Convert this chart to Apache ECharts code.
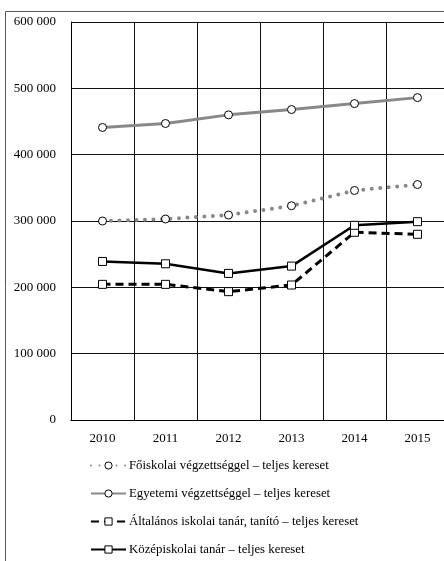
<!DOCTYPE html>
<html>
<head>
<meta charset="utf-8">
<script src="https://cdn.jsdelivr.net/npm/echarts@6/dist/echarts.min.js"></script>
<style>
  html, body { margin: 0; padding: 0; background: #fff; }
  #chart { width: 444px; height: 561px; }
</style>
</head>
<body>
<div id="chart"></div>
<script>
  // évek
  var years = ['2010', '2011', '2012', '2013', '2014', '2015'];

  // sorozatok (Ft)
  var foiskolai   = [300000, 303000, 309000, 323000, 346000, 355000];
  var egyetemi    = [441000, 447000, 460000, 468000, 477000, 486000];
  var altalanos   = [204500, 204500, 193500, 203500, 283000, 280000];
  var kozepiskola = [239000, 235500, 221000, 232000, 293500, 299000];

  var names = [
    'Főiskolai végzettséggel – teljes kereset',
    'Egyetemi végzettséggel – teljes kereset',
    'Általános iskolai tanár, tanító – teljes kereset',
    'Középiskolai tanár – teljes kereset'
  ];

  var font = '"Liberation Serif", "DejaVu Serif", serif';

  var chart = echarts.init(document.getElementById('chart'));

  function fmt(v) {
    return String(v).replace(/\B(?=(\d{3})+(?!\d))/g, ' ');
  }

  var option = {
    animation: false,
    backgroundColor: '#fff',
    textStyle: { fontFamily: font },
    graphic: [{
      type: 'rect',
      shape: { x: 5.5, y: 11.5, width: 520, height: 620 },
      style: { fill: 'none', stroke: '#555', lineWidth: 1 },
      silent: true
    }],
    grid: { left: 71, top: 22, width: 378, height: 398, outerBoundsMode: 'none', containLabel: false },
    legend: {
      orient: 'vertical',
      left: 90,
      top: 459,
      height: 200,
      padding: 0,
      itemWidth: 35,
      itemHeight: 9,
      itemGap: 15,
      data: names,
      itemStyle: { borderWidth: 1 },
      textStyle: { fontFamily: font, fontSize: 12.8, color: '#000', padding: [0, 0, 0, -2] }
    },
    xAxis: {
      type: 'category',
      data: years,
      boundaryGap: true,
      axisLine: { lineStyle: { color: '#000', width: 1 } },
      axisTick: { show: false },
      axisLabel: { color: '#000', fontSize: 13, fontFamily: font, margin: 12 },
      splitLine: { show: true, interval: 0, lineStyle: { color: '#111', width: 1 } }
    },
    yAxis: {
      type: 'value',
      min: 0,
      max: 600000,
      interval: 100000,
      axisLine: { show: true, lineStyle: { color: '#000' } },
      axisTick: { show: false },
      axisLabel: { color: '#000', fontSize: 13, fontFamily: font, margin: 15, formatter: fmt },
      splitLine: { lineStyle: { color: '#111', width: 1 } }
    },
    series: [
      {
        name: names[0],
        type: 'line',
        data: foiskolai,
        symbol: 'circle',
        symbolSize: 8,
        itemStyle: { color: '#fff', borderColor: '#000', borderWidth: 1 },
        lineStyle: { color: '#888', width: 4, type: [0, 8.5], cap: 'round' },
        z: 3
      },
      {
        name: names[1],
        type: 'line',
        data: egyetemi,
        symbol: 'circle',
        symbolSize: 8,
        itemStyle: { color: '#fff', borderColor: '#000', borderWidth: 1 },
        lineStyle: { color: '#888', width: 3 },
        z: 3
      },
      {
        name: names[2],
        type: 'line',
        data: altalanos,
        symbol: 'rect',
        symbolSize: 8,
        itemStyle: { color: '#fff', borderColor: '#000', borderWidth: 1 },
        lineStyle: { color: '#000', width: 3, type: [8, 5] },
        z: 4
      },
      {
        name: names[3],
        type: 'line',
        data: kozepiskola,
        symbol: 'rect',
        symbolSize: 8,
        itemStyle: { color: '#fff', borderColor: '#000', borderWidth: 1 },
        lineStyle: { color: '#000', width: 2.5 },
        z: 5
      }
    ]
  };

  chart.setOption(option);
</script>
</body>
</html>
